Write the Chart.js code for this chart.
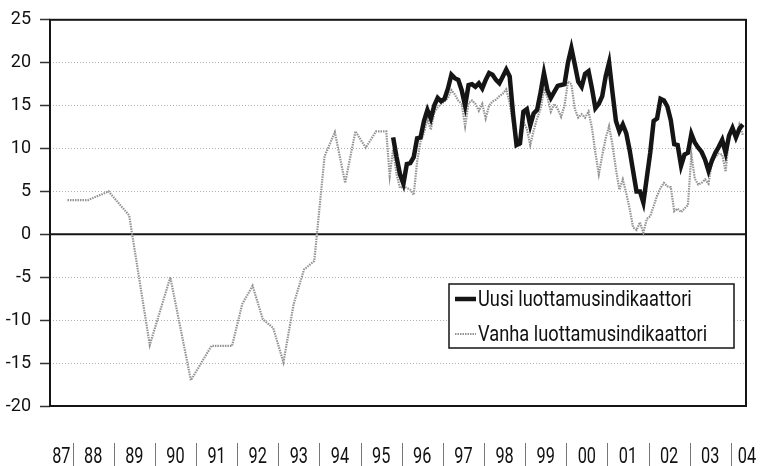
<!DOCTYPE html>
<html lang="fi">
<head>
<meta charset="utf-8">
<title>Luottamusindikaattori</title>
<script src="https://cdn.jsdelivr.net/npm/chart.js@4.4.1/dist/chart.umd.min.js"></script>
<style>
    html, body { margin: 0; padding: 0; background: #fff; }
    #wrap { width: 760px; height: 466px; }
</style>
</head>
<body>
<div id="wrap"><canvas id="chart"></canvas></div>
<script>
(function () {
    // -------- Data --------
    const yearLabels = ["87", "88", "89", "90", "91", "92", "93", "94", "95",
                        "96", "97", "98", "99", "00", "01", "02", "03", "04"];
    const firstYear = 1987;
    const yTicks = [-20, -15, -10, -5, 0, 5, 10, 15, 20, 25];

    // vanha indikaattori: harvat havainnot ennen syyskuuta 1995
    const oldEarlyMonths = ["1987-11", "1988-05", "1988-11", "1989-05", "1989-11", "1990-05",
                            "1990-11", "1991-05", "1991-11", "1992-02", "1992-05", "1992-08",
                            "1992-11", "1993-02", "1993-05", "1993-08", "1993-11", "1994-02",
                            "1994-05", "1994-08", "1994-11", "1995-02", "1995-05", "1995-08"];
    const oldEarlyValues = [4.0, 4.0, 5.0, 2.2, -12.9, -5.0,
                            -17.0, -13.0, -13.0, -8.1, -6.0, -9.9,
                            -10.9, -14.9, -8.1, -4.1, -3.1, 9.1,
                            11.9, 6.0, 12.0, 10.1, 12.0, 12.0];

    // kuukausittain
    const oldMonthlyStart = "1995-09";
    const oldMonthlyValues = [
        6.8, 9.9, 7.0, 5.4, 5.6, 5.4, 5.2, 4.6, 8.5, 10.8, 11.8, 13.4,
        12.2, 14.2, 14.8, 15.2, 15.5, 15.9, 16.8, 16.3, 15.6, 15.2, 12.6, 15.3,
        15.6, 15.2, 14.4, 15.2, 13.5, 15.0, 15.5, 15.7, 16.1, 16.4, 16.9, 15.3,
        12.8, 10.4, 10.4, 13.1, 12.3, 10.4, 12.1, 13.5, 14.6, 16.8, 16.0, 14.3,
        15.2, 14.6, 13.7, 15.0, 17.8, 17.5, 14.6, 13.6, 14.0, 13.6, 14.3, 12.4,
        9.5, 7.0, 9.2, 11.2, 12.6, 10.4, 7.6, 5.2, 6.4, 4.8, 3.0, 0.8,
        0.5, 1.4, 0.2, 1.8, 2.1, 3.3, 4.5, 5.4, 6.0, 5.6, 5.5, 2.7,
        3.0, 2.6, 3.0, 3.4, 9.3, 6.5, 5.8, 6.0, 6.4, 5.9, 8.4, 9.0,
        9.4, 9.3, 7.3, 11.4, 12.6, 11.3, 12.8, 11.6
    ];

    const newMonthlyStart = "1995-10";
    const newMonthlyValues = [
        11.3, 9.0, 7.0, 5.9, 8.2, 8.3, 9.0, 11.2, 11.3, 13.2, 14.5, 13.5,
        15.0, 15.9, 15.5, 15.8, 17.0, 18.6, 18.2, 18.0, 16.8, 15.0, 17.4, 17.5,
        17.2, 17.6, 17.0, 18.0, 18.8, 18.6, 18.0, 17.6, 18.4, 19.2, 18.4, 14.0,
        10.4, 10.6, 14.3, 14.6, 12.7, 14.1, 14.5, 16.5, 18.8, 16.8, 15.9, 16.6,
        17.3, 17.4, 17.5, 20.0, 21.7, 19.8, 17.8, 17.2, 18.7, 19.0, 17.0, 14.7,
        15.2, 16.1, 18.4, 20.0, 16.5, 13.2, 12.0, 12.8, 11.8, 9.8, 7.4, 5.0,
        5.0, 3.7, 6.6, 9.5, 13.2, 13.5, 15.8, 15.6, 14.9, 13.3, 10.5, 10.4,
        8.0, 9.3, 9.5, 11.7, 10.7, 10.1, 9.6, 8.7, 7.4, 8.6, 9.5, 10.2,
        11.0, 9.5, 11.5, 12.4, 11.3, 12.3, 12.8
    ];

    const seriesNames = ["Uusi luottamusindikaattori", "Vanha luottamusindikaattori"];

    // -------- Helpers --------
    const monthPos = (s) => {
        const [y, m] = s.split("-").map(Number);
        return y + (m - 0.5) / 12;
    };
    const monthly = (start, values) => {
        const x0 = monthPos(start);
        return values.map((v, i) => ({ x: x0 + i / 12, y: v }));
    };

    const oldData = oldEarlyMonths.map((m, i) => ({ x: monthPos(m), y: oldEarlyValues[i] }))
        .concat(monthly(oldMonthlyStart, oldMonthlyValues));
    const newData = monthly(newMonthlyStart, newMonthlyValues);

    const FONT = "Roboto, 'Liberation Sans', sans-serif";
    const BLACK = "#151515";
    const GREY = "#939393";

    // -------- Plugins --------
    // kehys + nollaviiva
    const framePlugin = {
        id: "frame",
        beforeDatasetsDraw(chart) {
            const { ctx, chartArea: a, scales: { y } } = chart;
            ctx.save();
            ctx.strokeStyle = BLACK;
            ctx.lineWidth = 2;
            const y0 = y.getPixelForValue(0);
            ctx.beginPath();
            ctx.moveTo(a.left, y0); ctx.lineTo(a.right, y0);
            ctx.stroke();
            ctx.strokeRect(a.left, a.top, a.right - a.left, a.bottom - a.top);
            ctx.restore();
        }
    };

    // selite kuvaajan sisällä
    const legendPlugin = {
        id: "boxLegend",
        afterDatasetsDraw(chart) {
            const { ctx, chartArea: a } = chart;
            const left = a.right - 297, right = a.right - 12;
            const top = 284, bottom = 348;
            ctx.save();
            ctx.fillStyle = "#fff";
            ctx.fillRect(left, top, right - left, bottom - top);
            ctx.strokeStyle = BLACK;
            ctx.lineWidth = 1.5;
            ctx.strokeRect(left, top, right - left, bottom - top);
            const rows = [299, 334];
            chart.data.datasets.forEach((ds, i) => {
                const cy = rows[i];
                ctx.strokeStyle = ds.borderColor;
                ctx.lineWidth = ds.borderWidth;
                ctx.setLineDash(ds.borderDash || []);
                ctx.beginPath();
                ctx.moveTo(left + 6, cy); ctx.lineTo(left + 27, cy);
                ctx.stroke();
                ctx.setLineDash([]);
                ctx.fillStyle = "#111";
                ctx.font = "22px " + FONT;
                ctx.textBaseline = "middle";
                ctx.save();
                ctx.translate(left + 29, cy + 1);
                ctx.scale(0.83, 1);
                ctx.fillText(ds.label, 0, 0);
                ctx.restore();
            });
            ctx.restore();
        }
    };

    // vuosiakseli: nimikkeet ja väliviivat
    const yearAxisPlugin = {
        id: "yearAxis",
        afterDraw(chart) {
            const { ctx, chartArea: a, scales: { x }, width } = chart;
            ctx.save();
            ctx.strokeStyle = "#777";
            ctx.lineWidth = 1;
            ctx.fillStyle = "#111";
            ctx.font = "22px " + FONT;
            ctx.textAlign = "center";
            ctx.textBaseline = "middle";
            yearLabels.forEach((lab, i) => {
                const yr = firstYear + i;
                const x0 = Math.max(a.left, x.getPixelForValue(yr));
                let cx = (x0 + x.getPixelForValue(yr + 1)) / 2;
                cx = Math.min(cx, width - 13);
                if (i > 0) {
                    const sx = Math.round(x.getPixelForValue(yr)) + 0.5;
                    ctx.beginPath();
                    ctx.moveTo(sx, 443); ctx.lineTo(sx, 466);
                    ctx.stroke();
                }
                ctx.save();
                ctx.translate(cx, 457);
                ctx.scale(0.74, 1);
                ctx.fillText(lab, 0, 0);
                ctx.restore();
            });
            ctx.restore();
        }
    };

    // -------- Chart --------
    const canvas = document.getElementById("chart");
    new Chart(canvas, {
        type: "line",
        data: {
            datasets: [
                {
                    label: seriesNames[0], data: newData,
                    borderColor: BLACK, borderWidth: 4.5, pointRadius: 0,
                    tension: 0, order: 1
                },
                {
                    label: seriesNames[1], data: oldData,
                    borderColor: GREY, borderWidth: 2.2, borderDash: [1.5, 1],
                    pointRadius: 0, tension: 0, order: 2
                }
            ]
        },
        options: {
            responsive: true,
            maintainAspectRatio: false,
            animation: false,
            layout: { padding: { top: 19, right: 14, left: 0, bottom: 0 } },
            plugins: { legend: { display: false }, tooltip: { enabled: false } },
            scales: {
                x: {
                    type: "linear", min: 1987.45, max: 2004.37,
                    grid: { display: false },
                    border: { display: false },
                    ticks: { display: false },
                    afterFit(scale) { scale.height = 60; }
                },
                y: {
                    min: -20, max: 25,
                    afterBuildTicks(scale) { scale.ticks = yTicks.map(v => ({ value: v })); },
                    afterFit(scale) { scale.width = 50; },
                    border: { display: false, dash: [1, 2] },
                    grid: {
                        color: (c) => (c.tick && (c.tick.value === 0 || c.tick.value === 25 || c.tick.value === -20))
                            ? "rgba(0,0,0,0)" : "#b0b0b0",
                        lineWidth: 1,
                        tickColor: "#333",
                        tickLength: 10,
                        tickWidth: 1.5
                    },
                    ticks: {
                        color: "#111",
                        padding: 9,
                        font: { family: FONT, size: 18 }
                    }
                }
            }
        },
        plugins: [framePlugin, legendPlugin, yearAxisPlugin]
    });
})();
</script>
</body>
</html>
